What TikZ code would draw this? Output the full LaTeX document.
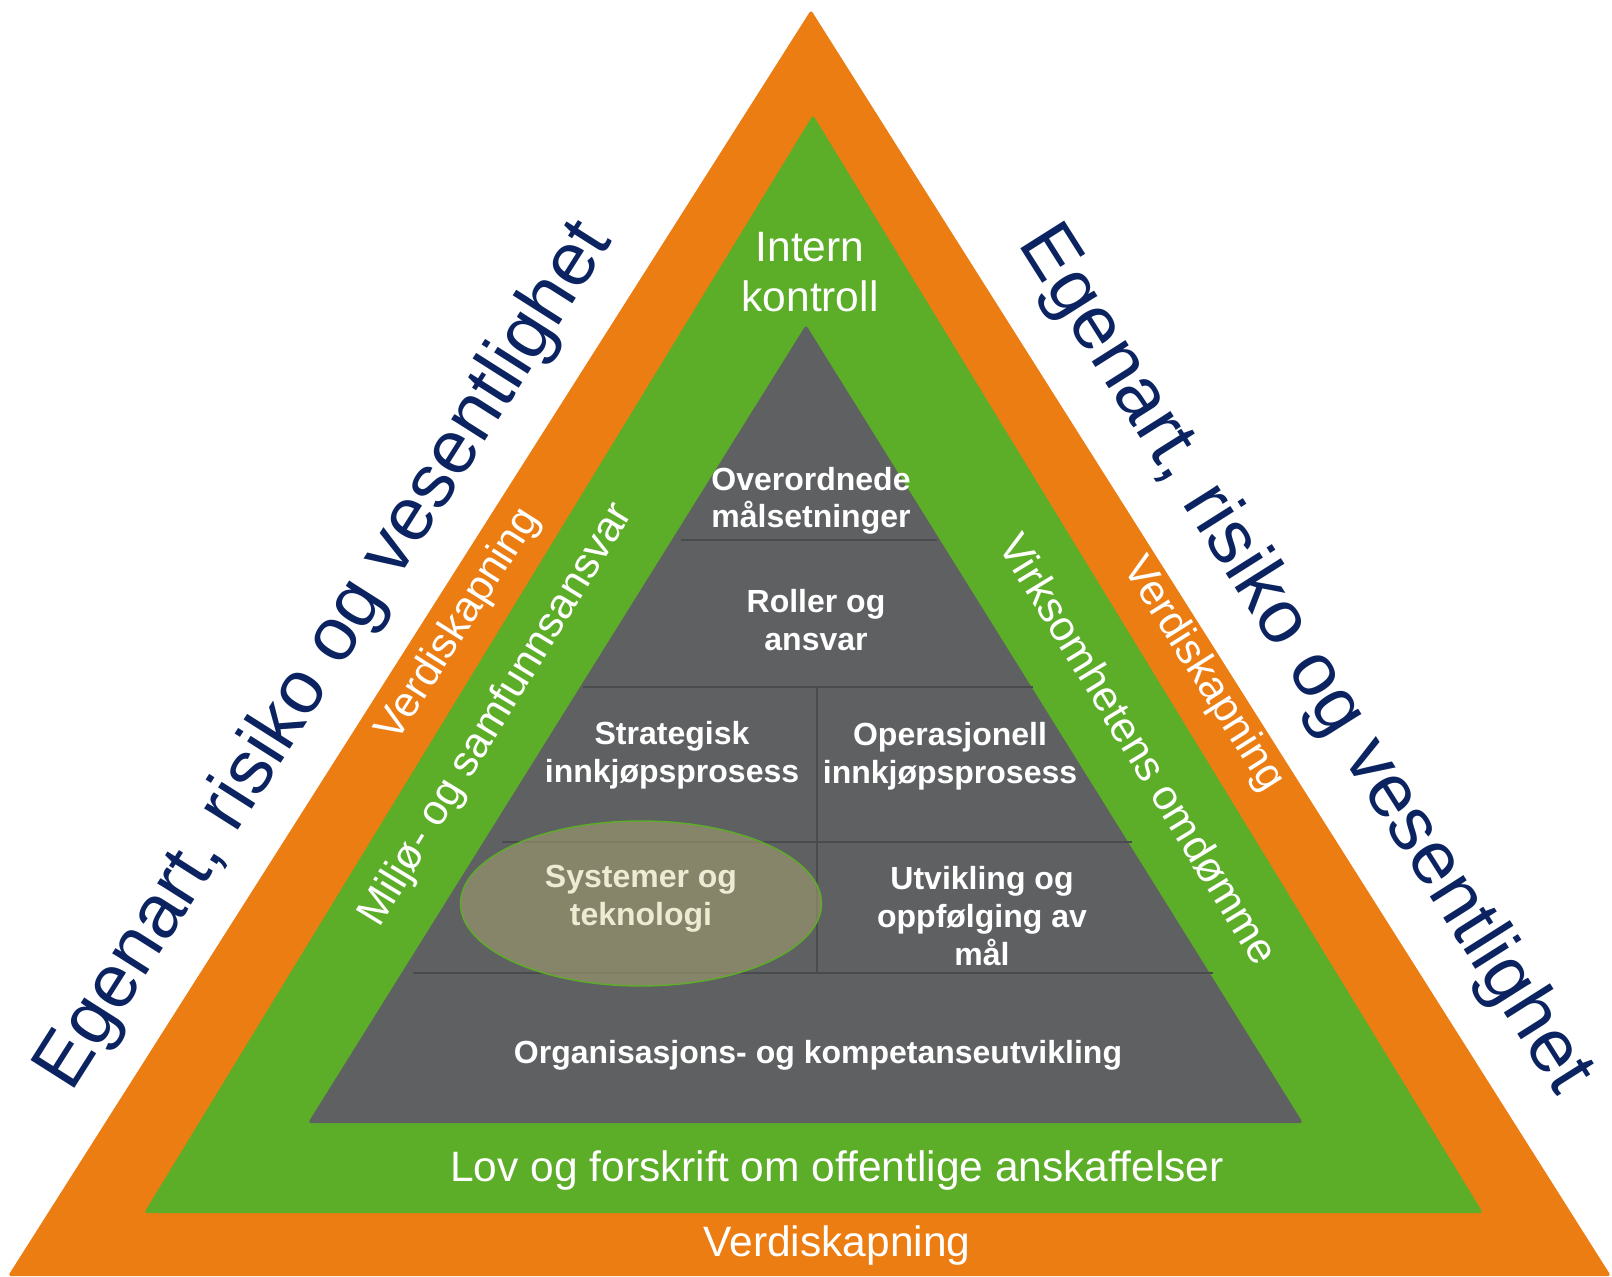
\documentclass[tikz,border=0pt]{standalone}
\usepackage{fontspec}
\setmainfont{Liberation Sans}
\definecolor{orangeband}{HTML}{EC7D12}
\definecolor{greenband}{HTML}{5CAD28}
\definecolor{grayblock}{HTML}{5F6062}
\definecolor{grayline}{HTML}{4A4B4D}
\definecolor{navytext}{HTML}{0B2461}
\definecolor{olivefill}{HTML}{A39E6E}
\definecolor{creamtext}{HTML}{EDEBD3}
\begin{document}
\begin{tikzpicture}[x=0.5pt,y=-0.5pt,
    sidelabel/.style={text=navytext,font=\fontsize{37.7}{44}\selectfont,inner sep=0pt,anchor=mid},
    bandlabel/.style={text=white,font=\fontsize{21.25}{25}\selectfont,inner sep=0pt,align=center},
    blocklabel/.style={text=white,font=\bfseries\fontsize{16}{18.8}\selectfont,inner sep=0pt,align=center}]
  \useasboundingbox (0,0) rectangle (1612,1277);
  \fill[orangeband,rounded corners=1.5pt] (811,10) -- (1611,1276) -- (8,1276) -- cycle;
  \fill[greenband,rounded corners=1.5pt] (813,115) -- (1483,1213) -- (144,1213) -- cycle;
  \fill[grayblock,rounded corners=1.5pt] (806,325) -- (1303,1123) -- (308,1123) -- cycle;
  \begin{scope}[grayline,line width=1pt]
    \draw (681,540) -- (937,540);
    \draw (583,687) -- (1033,687);
    \draw (817,687) -- (817,973);
    \draw (502,842) -- (1132,842);
    \draw (413,973) -- (1213,973);
  \end{scope}
  \draw[greenband,line width=0.7pt,fill=olivefill,fill opacity=0.6]
    (641,903.5) ellipse [x radius=180.5,y radius=82.5];
  \node[sidelabel,rotate=57.6] (egenartL) at (338,664) {Egenart, risiko og vesentlighet};
  \node[sidelabel,rotate=-57.7] (egenartR) at (1292,668) {Egenart, risiko og vesentlighet};
  \node[bandlabel,anchor=mid,rotate=57.6] (verdiL) at (464,628) {Verdiskapning};
  \node[bandlabel,anchor=mid,rotate=-57.7] (verdiR) at (1198,678) {Verdiskapning};
  \node[bandlabel,anchor=mid,rotate=58.6] (miljo) at (502,718) {Miljø- og samfunnsansvar};
  \node[bandlabel,anchor=mid,rotate=-58.6] (omdomme) at (1131,754) {Virksomhetens omdømme};
  \node[bandlabel] (intern) at (810,272) {Intern\\kontroll};
  \node[bandlabel] (lov) at (837,1171) {Lov og forskrift om offentlige anskaffelser};
  \node[bandlabel] (verdiB) at (837,1246) {Verdiskapning};
  \node[blocklabel] (overordnede) at (811,501) {Overordnede\\målsetninger};
  \node[blocklabel] (roller) at (816,620) {Roller og\\ansvar};
  \node[blocklabel] (strategisk) at (672,755) {Strategisk\\innkjøpsprosess};
  \node[blocklabel] (operasjonell) at (950,756) {Operasjonell\\innkjøpsprosess};
  \node[blocklabel,text=creamtext] (systemer) at (641,899) {Systemer og\\teknologi};
  \node[blocklabel] (utvikling) at (982,916) {Utvikling og\\oppfølging av\\mål};
  \node[blocklabel] (organisasjon) at (818,1055) {Organisasjons- og kompetanseutvikling};
\end{tikzpicture}
\end{document}
